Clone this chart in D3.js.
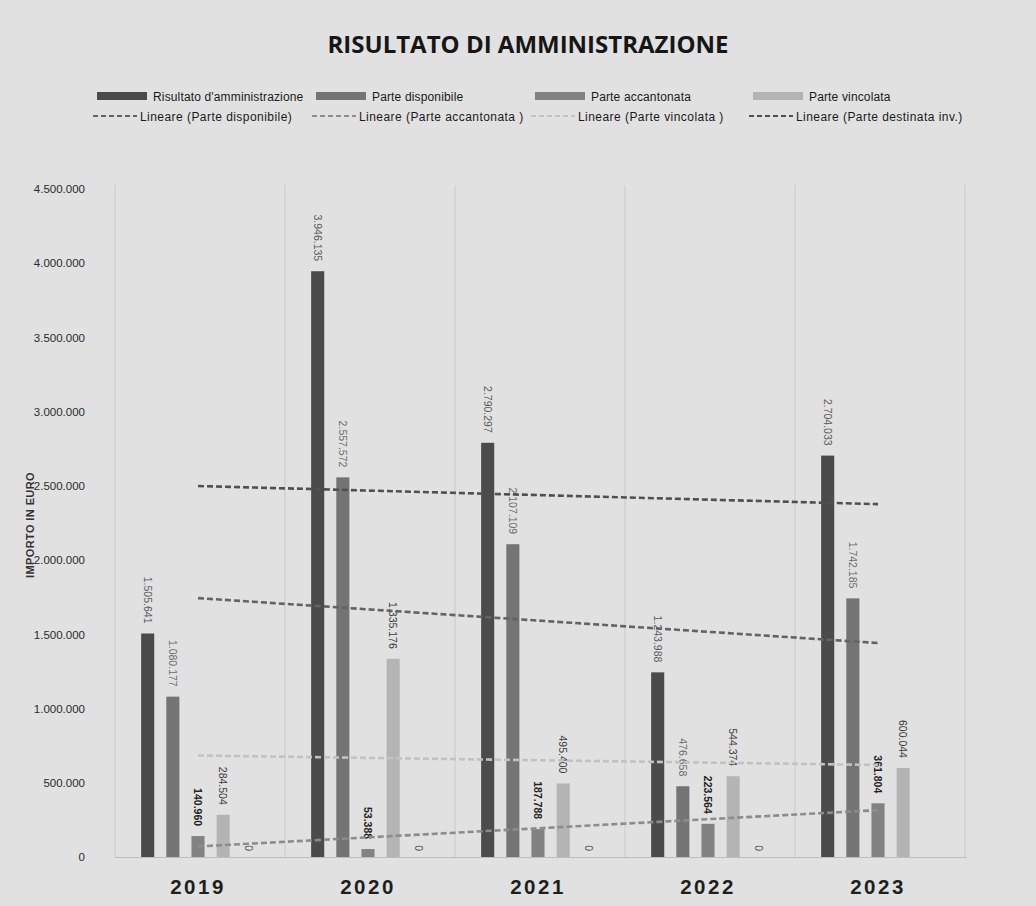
<!DOCTYPE html>
<html>
<head>
<meta charset="utf-8">
<script src="https://cdn.jsdelivr.net/npm/d3@7"></script>
<style>
  html, body { margin: 0; padding: 0; background: #e1e1e1; }
  svg { display: block; }
</style>
</head>
<body>
<svg id="chart" width="1036" height="906"></svg>
<script>
// Anni e serie (importi in euro)
const years = ["2019", "2020", "2021", "2022", "2023"];
const risultato = [1505641, 3946135, 2790297, 1243988, 2704033];
const disponibile = [1080177, 2557572, 2107109, 476658, 1742185];
const accantonata = [140960, 53388, 187788, 223564, 361804];
const vincolata = [284504, 1335176, 495400, 544374, 600044];
const destinataInv = [0, 0, 0, 0, null];
const yTicks = [0, 500000, 1000000, 1500000, 2000000, 2500000, 3000000, 3500000, 4000000, 4500000];

const barSeries = [
  { key: "Risultato d'amministrazione", values: risultato, fill: "#4b4b4b", label: "#5a5a5a", weight: "normal" },
  { key: "Parte disponibile", values: disponibile, fill: "#747474", label: "#6a6a6a", weight: "normal" },
  { key: "Parte accantonata", values: accantonata, fill: "#828282", label: "#222", weight: "bold" },
  { key: "Parte vincolata", values: vincolata, fill: "#b4b4b4", label: "#3a3a3a", weight: "normal" },
  { key: "Parte destinata inv.", values: destinataInv, fill: "#9a9a9a", label: "#555", weight: "normal" }
];

// Linee di tendenza (regressione lineare)
const trends = [
  { key: "Lineare (Parte disponibile)", values: disponibile, stroke: "#636363" },
  { key: "Lineare (Parte accantonata )", values: accantonata, stroke: "#8c8c8c" },
  { key: "Lineare (Parte vincolata )", values: vincolata, stroke: "#c2c2c2" },
  { key: "Lineare (Parte destinata inv.)", values: risultato, stroke: "#505050" }
];

const it = d3.formatLocale({ decimal: ",", thousands: ".", grouping: [3], currency: ["€", ""] });
const fmt = it.format(",d");

const svg = d3.select("#chart");
const plot = { left: 113, right: 963, top: 189, bottom: 857 };
const FONT = "'Liberation Sans', Arial, sans-serif";

// Scale
const x0 = d3.scaleBand().domain(years).range([plot.left, plot.right])
  .paddingInner(0.26).paddingOuter(0.13);
const x1 = d3.scaleBand().domain(barSeries.map(s => s.key)).range([0, x0.bandwidth()])
  .paddingInner(0.48).paddingOuter(0.24);
const y = d3.scaleLinear().domain([0, 4500000]).range([plot.bottom, plot.top]);

// Griglia verticale tra le categorie
const step = x0.step();
const bounds = d3.range(years.length + 1).map(i => plot.left + i * step);
svg.append("g").selectAll("line").data(bounds).join("line")
  .attr("x1", d => d + 2).attr("x2", d => d + 2)
  .attr("y1", plot.top - 4).attr("y2", plot.bottom)
  .attr("stroke", "#c9c9c9").attr("stroke-width", 1);

// Asse Y
const yAxis = svg.append("g").attr("transform", `translate(${plot.left - 25},0)`)
  .call(d3.axisLeft(y).tickValues(yTicks).tickFormat(fmt).tickSize(0));
yAxis.select(".domain").remove();
yAxis.selectAll("text").attr("font-family", FONT).attr("font-size", 11.5)
  .attr("fill", "#2a2a2a").attr("dx", 0);

svg.append("text")
  .attr("transform", `translate(34,525) rotate(-90)`)
  .attr("text-anchor", "middle").attr("font-family", FONT).attr("font-size", 11)
  .attr("letter-spacing", 0.4)
  .attr("font-weight", "bold").attr("fill", "#333").text("IMPORTO IN EURO");

// Linea di base
svg.append("line").attr("x1", plot.left + 2).attr("x2", plot.right + 4)
  .attr("y1", plot.bottom + 0.5).attr("y2", plot.bottom + 0.5)
  .attr("stroke", "#bdbdbd");

// Etichette degli anni
svg.append("g").selectAll("text").data(years).join("text")
  .attr("x", d => x0(d) + x0.bandwidth() / 2)
  .attr("y", 894)
  .attr("text-anchor", "middle")
  .attr("font-family", FONT).attr("font-size", 20.5).attr("font-weight", "bold")
  .attr("letter-spacing", 2.5).attr("fill", "#1e1e1e")
  .text(d => d);

// Barre
const groups = svg.append("g").selectAll("g").data(years).join("g")
  .attr("transform", d => `translate(${x0(d)},0)`);

barSeries.forEach(s => {
  groups.filter((d, i) => s.values[i] !== null && s.values[i] > 0)
    .append("rect")
    .attr("x", x1(s.key))
    .attr("width", x1.bandwidth())
    .attr("y", (d) => y(s.values[years.indexOf(d)]))
    .attr("height", (d) => y(0) - y(s.values[years.indexOf(d)]))
    .attr("fill", s.fill);
});

// Etichette dei valori (ruotate)
barSeries.forEach(s => {
  groups.filter((d, i) => s.values[i] !== null)
    .append("text")
    .attr("transform", d => {
      const v = s.values[years.indexOf(d)];
      const cx = x1(s.key) + x1.bandwidth() / 2;
      const ty = v === 0 ? y(0) - 6 : y(v) - 10;
      return `translate(${cx},${ty}) rotate(90)`;
    })
    .attr("text-anchor", "end")
    .attr("dy", "0.35em")
    .attr("font-family", FONT).attr("font-size", 10.5)
    .attr("font-weight", s.weight).attr("fill", s.label)
    .text(d => fmt(s.values[years.indexOf(d)]));
});

// Linee di tendenza
function linearFit(vals) {
  const n = vals.length;
  const xs = d3.range(n);
  const mx = d3.mean(xs), my = d3.mean(vals);
  const b = d3.sum(xs, (xv, i) => (xv - mx) * (vals[i] - my)) / d3.sum(xs, xv => (xv - mx) ** 2);
  const a = my - b * mx;
  return xs.map(xv => a + b * xv);
}
const line = d3.line()
  .x((d, i) => x0(years[i]) + x0.bandwidth() / 2)
  .y(d => y(d));
svg.append("g").selectAll("path").data(trends).join("path")
  .attr("d", t => line(linearFit(t.values)))
  .attr("fill", "none")
  .attr("stroke", t => t.stroke)
  .attr("stroke-width", 2.6)
  .attr("stroke-dasharray", "6,3");

// Titolo
svg.append("text").attr("x", 528).attr("y", 53).attr("text-anchor", "middle")
  .attr("font-family", "'Open Sans', " + FONT).attr("font-size", 24).attr("font-weight", "bold")
  .attr("fill", "#161616").text("RISULTATO DI AMMINISTRAZIONE");

// Legenda
const legendX = [97, 316, 535, 753];
const leg1 = svg.append("g");
barSeries.slice(0, 4).forEach((s, i) => {
  leg1.append("rect").attr("x", legendX[i]).attr("y", 92).attr("width", 50).attr("height", 8)
    .attr("fill", s.fill);
  leg1.append("text").attr("x", legendX[i] + 56).attr("y", 100.5)
    .attr("font-family", FONT).attr("font-size", 12).attr("letter-spacing", 0.15)
    .attr("fill", "#1a1a1a").text(s.key);
});
const leg2 = svg.append("g");
trends.forEach((t, i) => {
  leg2.append("line").attr("x1", legendX[i] - 4).attr("x2", legendX[i] + 40)
    .attr("y1", 116).attr("y2", 116)
    .attr("stroke", t.stroke).attr("stroke-width", 2).attr("stroke-dasharray", "5,3");
  leg2.append("text").attr("x", legendX[i] + 43).attr("y", 120.5)
    .attr("font-family", FONT).attr("font-size", 12).attr("letter-spacing", 0.45)
    .attr("fill", "#1a1a1a").text(t.key);
});
</script>
</body>
</html>
